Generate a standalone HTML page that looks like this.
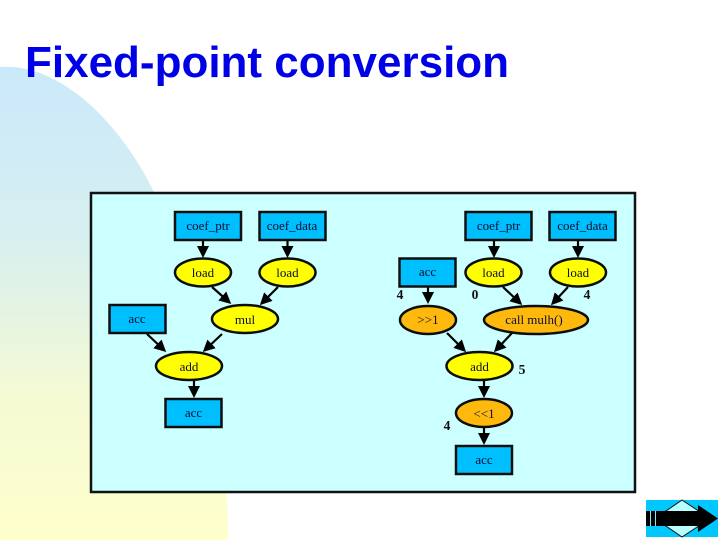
<!DOCTYPE html>
<html><head><meta charset="utf-8"><style>
html,body{margin:0;padding:0;background:#fff}
svg{display:block}
.n{font-family:"Liberation Serif",serif;font-size:13px;fill:#0a1030;text-anchor:middle}
.l{font-family:"Liberation Serif",serif;font-size:13.5px;font-weight:bold;fill:#111;text-anchor:middle}
.t{font-family:"Liberation Sans",sans-serif;font-size:44px;font-weight:bold;fill:#0000e6}
.r{fill:#00bfff;stroke:#111;stroke-width:2.5}
.y{fill:#ffff00;stroke:#111;stroke-width:2.5}
.o{fill:#ffb90f;stroke:#111;stroke-width:2.5}
.e{stroke:#000;stroke-width:2.2;fill:none;marker-end:url(#a)}
.d{filter:url(#b)}
</style></head><body>
<svg width="720" height="540" viewBox="0 0 720 540" xmlns="http://www.w3.org/2000/svg">
<defs>
<linearGradient id="g" x1="0" y1="67" x2="0" y2="540" gradientUnits="userSpaceOnUse">
<stop offset="0" stop-color="#cbe9fb"/><stop offset="0.35" stop-color="#d6eff0"/><stop offset="0.7" stop-color="#f4fad4"/><stop offset="1" stop-color="#ffffcc"/>
</linearGradient>
<marker id="a" markerUnits="userSpaceOnUse" markerWidth="14" markerHeight="14" refX="9" refY="6" orient="auto"><path d="M0,0 L12,6 L0,12 z" fill="#000"/></marker>
<filter id="b" filterUnits="userSpaceOnUse" x="0" y="0" width="720" height="540"><feGaussianBlur stdDeviation="0.35"/></filter>
</defs>
<rect width="720" height="540" fill="#fff"/>
<path d="M0,67 C60,62 125,125 160,205 C198,295 228,420 228,540 L0,540 z" fill="url(#g)"/>
<text class="t" x="25" y="77">Fixed-point conversion</text>
<rect x="91" y="193" width="544" height="299" fill="#ccffff" stroke="#111" stroke-width="2.5"/>
<g class="d">
<!-- left edges -->
<path class="e" d="M203,240 V255"/>
<path class="e" d="M287.500,240 V255"/>
<path class="e" d="M212,287 L229,302"/>
<path class="e" d="M278,287 L262,303"/>
<path class="e" d="M147,334 L164,350"/>
<path class="e" d="M222,334 L205,350"/>
<path class="e" d="M194,381 V395"/>
<!-- left nodes -->
<rect class="r" x="175" y="212" width="66" height="28"/><text class="n" x="208" y="230">coef_ptr</text>
<rect class="r" x="259.500" y="212" width="66" height="28"/><text class="n" x="292" y="230">coef_data</text>
<ellipse class="y" cx="203" cy="272.500" rx="28" ry="14"/><text class="n" x="203" y="277">load</text>
<ellipse class="y" cx="287.500" cy="272.500" rx="28" ry="14"/><text class="n" x="287.500" y="277">load</text>
<ellipse class="y" cx="245" cy="319" rx="33" ry="14"/><text class="n" x="245" y="324">mul</text>
<rect class="r" x="109.500" y="305" width="56" height="28"/><text class="n" x="137" y="323">acc</text>
<ellipse class="y" cx="189" cy="366" rx="33" ry="14"/><text class="n" x="189" y="371">add</text>
<rect class="r" x="165.500" y="399" width="56" height="28"/><text class="n" x="193.500" y="417">acc</text>
<!-- right edges -->
<path class="e" d="M494,240 V255"/>
<path class="e" d="M578,240 V255"/>
<path class="e" d="M428,287 V301"/>
<path class="e" d="M503,287 L520,303"/>
<path class="e" d="M568,287 L553,303"/>
<path class="e" d="M447,333 L464,350"/>
<path class="e" d="M512,333 L496,350"/>
<path class="e" d="M484,381 V395"/>
<path class="e" d="M484,428 V442"/>
<!-- right nodes -->
<rect class="r" x="465.500" y="212" width="66" height="28"/><text class="n" x="498.500" y="230">coef_ptr</text>
<rect class="r" x="549.500" y="212" width="66" height="28"/><text class="n" x="582.500" y="230">coef_data</text>
<rect class="r" x="399.500" y="258.500" width="56" height="28"/><text class="n" x="427.500" y="276">acc</text>
<ellipse class="y" cx="493.500" cy="272.500" rx="28" ry="14"/><text class="n" x="493.500" y="277">load</text>
<ellipse class="y" cx="578" cy="272.500" rx="28" ry="14"/><text class="n" x="578" y="277">load</text>
<ellipse class="o" cx="428" cy="320" rx="28" ry="14"/><text class="n" x="428" y="324">&gt;&gt;1</text>
<ellipse class="o" cx="536" cy="320" rx="52" ry="14"/><text class="n" x="534" y="324">call mulh()</text>
<ellipse class="y" cx="479.500" cy="366" rx="33" ry="14"/><text class="n" x="479.500" y="371">add</text>
<ellipse class="o" cx="484" cy="413" rx="28" ry="14"/><text class="n" x="484" y="418">&lt;&lt;1</text>
<rect class="r" x="456" y="446" width="56" height="28"/><text class="n" x="484" y="464">acc</text>
<!-- labels -->
<text class="l" x="400" y="299">4</text>
<text class="l" x="475" y="299">0</text>
<text class="l" x="587" y="299">4</text>
<text class="l" x="522" y="374">5</text>
<text class="l" x="447" y="430">4</text>
</g>
<!-- nav button -->
<rect x="646" y="500" width="72" height="37" fill="#00c8ff"/>
<polygon points="682,500 710,518.500 682,537 655,518.500" fill="#b8ffff" stroke="#111" stroke-width="1"/>
<polygon points="646,511 698,511 698,505 718,518.500 698,532 698,526 646,526" fill="#000"/>
<rect x="650" y="511" width="1" height="15" fill="#7fe8ff"/>
<rect x="655" y="511" width="1" height="15" fill="#7fe8ff"/>
</svg>
</body></html>
